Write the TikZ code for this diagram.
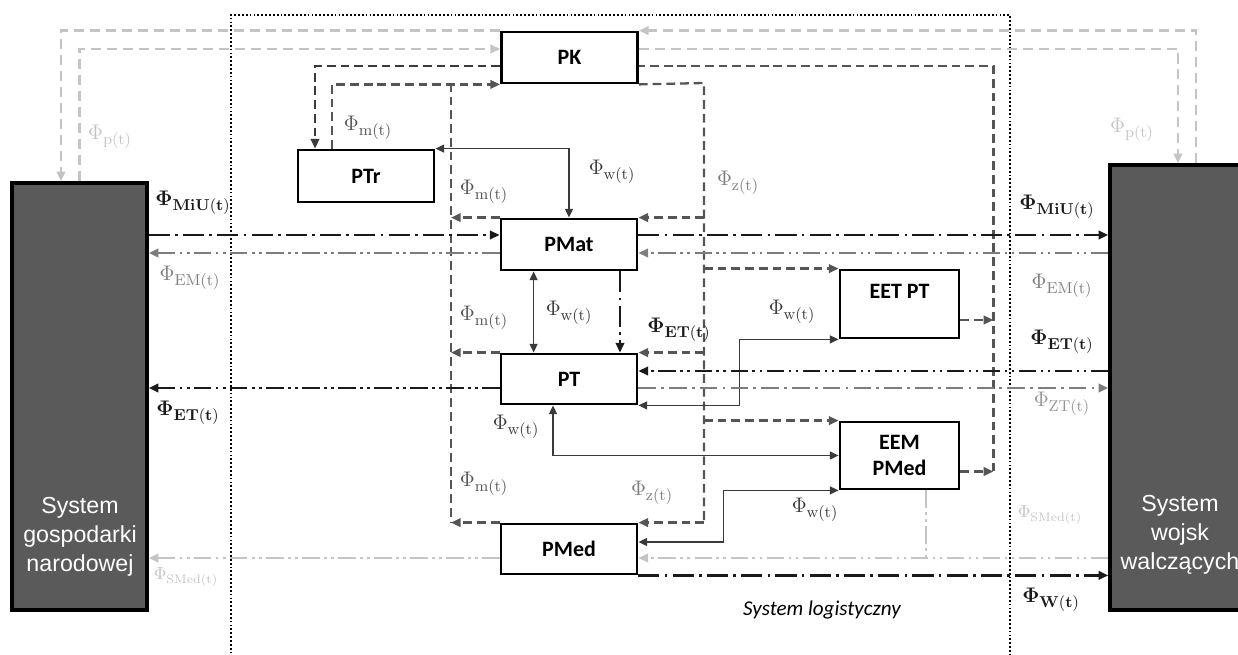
\documentclass[tikz,border=0pt]{standalone}
\usepackage[no-math]{fontspec}
\setmainfont{Carlito}
\newfontfamily\arialfont{Liberation Sans}
\usepackage{amsmath,amssymb}
\usetikzlibrary{
  arrows.meta
}
\definecolor{lgblack}{HTML}{1A1A1A}
\definecolor{lggrey}{HTML}{5A5A5A}
\definecolor{lglight}{HTML}{C4C4C4}
\definecolor{lgdark}{HTML}{3A3A3A}
\definecolor{lgmid}{HTML}{555555}
\definecolor{lgem}{HTML}{7D7D7D}
\definecolor{lgzt}{HTML}{959595}

\begin{document}
\begin{tikzpicture}[x=0.02cm, y=-0.02cm,
  every node/.style={font=\fontsize{12}{14}\selectfont},
  unit/.style={draw=black, fill=white, line width=1.6pt, inner sep=2pt,
    font=\bfseries\fontsize{12.5}{14.5}\selectfont, align=center,
    minimum width=2.72cm, minimum height=1.02cm},
  system/.style={draw=black, fill=lggrey, line width=2pt},
  systext/.style={text=white, align=center,
    font=\arialfont\fontsize{13.2}{16.4}\selectfont},
  flux/.style={inner sep=1pt, font=\fontsize{12.5}{14}\selectfont},
  arr/.style={-{Triangle[length=5.5pt,width=4.8pt]}},
  arrs/.style={{Triangle[length=5pt,width=4.5pt]}-{Triangle[length=5pt,width=4.5pt]}},
  pflow/.style={draw=lglight, line width=1.3pt, dash pattern=on 5.7pt off 3.4pt},
  kflow/.style={draw=lgdark, line width=1.4pt, dash pattern=on 5pt off 2.8pt},
  mflow/.style={draw=lgmid, line width=1.3pt, dash pattern=on 5pt off 2.8pt},
  wflow/.style={draw=lgdark, line width=0.9pt},
  miu/.style={draw=lgblack, line width=1.5pt,
    dash pattern=on 12pt off 3pt on 1.5pt off 3pt},
  emflow/.style={draw=lgem, line width=1.5pt,
    dash pattern=on 10pt off 2.5pt on 1.5pt off 2.5pt on 1.5pt off 2.5pt},
  etflow/.style={emflow, draw=lgblack},
  ztflow/.style={draw=lgem, line width=1.3pt,
    dash pattern=on 10pt off 3pt on 1.5pt off 3pt},
  smflow/.style={emflow, draw=lglight, line width=1.3pt}
]
  \useasboundingbox (0,0) rectangle (1238,655);

  % System logistyczny
  \draw[line width=0.8pt, dash pattern=on 1pt off 1.2pt]
    (231,665) -- (231,15) -- (1010,15) -- (1010,665);
  \node (slog) at (822,610) {\itshape System logistyczny};

  % systems
  \node[system, minimum width=2.7cm, minimum height=8.54cm] (sgn) at (79.5,396.5) {};
  \node[systext] (sgnlab) at (80,537) {System\\gospodarki\\narodowej};
  \node[system, minimum width=3.44cm, minimum height=8.9cm] (sww) at (1196,387.5) {};
  \node[systext] (swwlab) at (1180,535) {System\\wojsk\\walczących};

  % units
  \node[unit] (pk) at (569.5,57.5) {PK};
  \node[unit, minimum height=1.04cm] (ptr) at (366,176) {PTr};
  \node[unit] (pmat) at (569,244.5) {PMat};
  \node[unit, minimum height=1cm] (pt) at (569,379) {PT};
  \node[unit, minimum height=1cm] (pmed) at (569,549) {PMed};
  \node[unit, minimum width=2.38cm, minimum height=1.36cm] (eet) at (899.5,304) {EET PT\\\phantom{X}};
  \node[unit, minimum width=2.38cm, minimum height=1.34cm] (eem) at (899.5,455.5) {EEM\\PMed};

  % Phi_p
  \draw[pflow,arr] (sww.north) |- (pk.north east);
  \draw[pflow,arr] (pk.north west) -| ([xshift=-0.37cm]sgn.north);
  \draw[pflow,arr] (sgn.north) |- ([yshift=0.17cm]pk.west);
  \draw[pflow,arr] ([yshift=0.17cm]pk.east) -| ([xshift=-0.36cm]sww.north);

  % PK -> PTr, feedback to PK
  \draw[kflow,arr] ([yshift=-0.17cm]pk.west) -| ([xshift=-1.02cm]ptr.north);
  \draw[mflow,arr] ([yshift=-0.32cm]eem.east) -- ++(33,0) coordinate (fbbot);
  \draw[mflow,arr] ([yshift=-0.32cm]eet.east) -- ++(33,0);
  \draw[mflow] (fbbot) |- ([yshift=-0.17cm]pk.east);

  % Phi_m
  \draw[mflow,arr] ([xshift=-0.68cm]ptr.north) |- (pk.south west);
  \coordinate (mcol) at (451,83);
  \draw[mflow] (mcol) -- (mcol |- pmed.north);
  \foreach \n in {pmat,pt,pmed}
    \draw[mflow,arr] (\n.north west) -- (\n.north west -| mcol);

  % Phi_z
  \coordinate (zcol) at (704,83);
  \draw[mflow] (pk.south east) -- (zcol) -- (zcol |- pmed.north);
  \foreach \n in {pmat,pt,pmed}
    \draw[mflow,arr] (\n.north east -| zcol) -- (\n.north east);
  \foreach \n in {eet,eem}
    \draw[mflow,arr] (\n.north west -| zcol) -- (\n.north west);

  % Phi_w
  \draw[wflow,arrs] (ptr.north east) -| (pmat.north);
  \draw[wflow,arrs] ([xshift=0.68cm]pmat.south west) -- ([xshift=0.68cm]pt.north west);
  \draw[wflow,arrs] (pt.south east) -- ++(101,0) |- (eet.south west);
  \draw[wflow,arrs] ([xshift=-0.32cm]pt.south) |- (eem.west);
  \draw[wflow,arrs] ([yshift=0.14cm]pmed.east) -- ++(85,0) |- (eem.south west);

  % material and evacuation flows
  \draw[miu,arr] ([xshift=1.02cm]pmat.south) -- ([xshift=1.02cm]pt.north);
  \draw[miu,arr] (sgn.east |- 0,235) -- (pmat.west |- 0,235);
  \draw[miu,arr] (pmat.east |- 0,235) -- (sww.west |- 0,235);
  \draw[emflow,arr] (sww.west |- 0,253) -- (pmat.east |- 0,253);
  \draw[emflow,arr] (pmat.west |- 0,253) -- (sgn.east |- 0,253);
  \draw[etflow,arr] (sww.west |- 0,371) -- (pt.east |- 0,371);
  \draw[etflow,arr] (pt.west |- 0,388) -- (sgn.east |- 0,388);
  \draw[ztflow,arr] (pt.east |- 0,388) -- (sww.west |- 0,388);
  \draw[smflow,arr] (sww.west |- 0,558) -- (pmed.east |- 0,558);
  \draw[smflow] ([xshift=0.53cm]eem.south) -- ++(0,69);
  \draw[smflow,arr] (pmed.west |- 0,558) -- (sgn.east |- 0,558);
  \draw[miu,arr] (pmed.south east) -- (sww.west |- pmed.south east);

  % labels
  \node[flux, text=lglight] (phipl) at (110,137) {$\Phi_{\mathrm{p(t)}}$};
  \node[flux, text=lglight] (phipr) at (1132,130) {$\Phi_{\mathrm{p(t)}}$};
  \node[flux, text=lgmid] (phimr) at (368,128) {$\Phi_{\mathrm{m(t)}}$};
  \node[flux, text=lgmid] (phim1) at (484,192) {$\Phi_{\mathrm{m(t)}}$};
  \node[flux, text=lgmid] (phim2) at (484,318) {$\Phi_{\mathrm{m(t)}}$};
  \node[flux, text=lgmid] (phim3) at (484,484) {$\Phi_{\mathrm{m(t)}}$};
  \node[flux, text=lgdark] (phiw1) at (612,172) {$\Phi_{\mathrm{w(t)}}$};
  \node[flux, text=lgdark] (phiw2) at (569,313) {$\Phi_{\mathrm{w(t)}}$};
  \node[flux, text=lgdark] (phiw3) at (792,312) {$\Phi_{\mathrm{w(t)}}$};
  \node[flux, text=lgdark] (phiw4) at (516,427) {$\Phi_{\mathrm{w(t)}}$};
  \node[flux, text=lgdark] (phiw5) at (815,510) {$\Phi_{\mathrm{w(t)}}$};
  \node[flux, text=lgem] (phiz1) at (738,183) {$\Phi_{\mathrm{z(t)}}$};
  \node[flux, text=lgem] (phiz2) at (652,493) {$\Phi_{\mathrm{z(t)}}$};
  \node[flux, text=lgblack] (phiet) at (679,330) {$\mathbf{\Phi}_{\mathbf{ET(t)}}$};
  \node[flux, text=lgblack] (phimiul) at (193,203) {$\mathbf{\Phi}_{\mathbf{MiU(t)}}$};
  \node[flux, text=lgem] (phieml) at (190,278) {$\Phi_{\mathrm{EM(t)}}$};
  \node[flux, text=lgblack] (phietl) at (188,413) {$\mathbf{\Phi}_{\mathbf{ET(t)}}$};
  \node[flux, text=lglight, font=\fontsize{10}{12}\selectfont] (phisml) at (186,577) {$\Phi_{\mathrm{SMed(t)}}$};
  \node[flux, text=lgblack] (phimiur) at (1057,207) {$\mathbf{\Phi}_{\mathbf{MiU(t)}}$};
  \node[flux, text=lgem] (phiemr) at (1062,286) {$\Phi_{\mathrm{EM(t)}}$};
  \node[flux, text=lgblack] (phietr) at (1062,342) {$\mathbf{\Phi}_{\mathbf{ET(t)}}$};
  \node[flux, text=lgzt] (phiztr) at (1062,404) {$\Phi_{\mathrm{ZT(t)}}$};
  \node[flux, text=lglight, font=\fontsize{10}{12}\selectfont] (phismr) at (1050,515) {$\Phi_{\mathrm{SMed(t)}}$};
  \node[flux, text=lgblack] (phiwr) at (1051,600) {$\mathbf{\Phi}_{\mathbf{W(t)}}$};

\end{tikzpicture}
\end{document}
